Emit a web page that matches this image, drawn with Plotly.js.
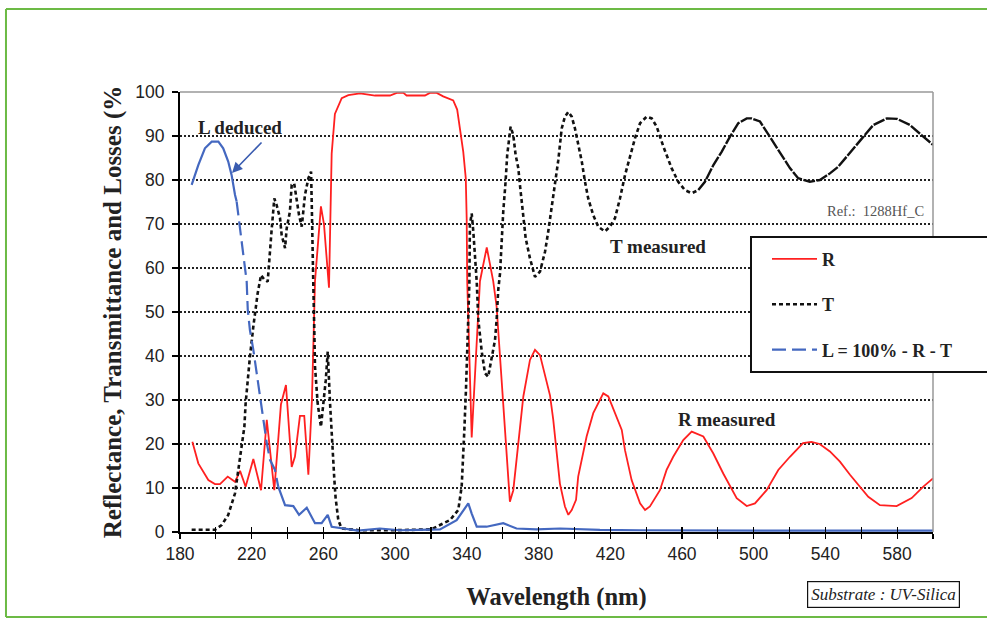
<!DOCTYPE html>
<html>
<head>
<meta charset="utf-8">
<script src="https://cdn.plot.ly/plotly-3.0.1.min.js"></script>
<style>
  html, body { margin: 0; padding: 0; background: #fff; }
  #chart { width: 987px; height: 622px; }
</style>
</head>
<body>
<div id="chart"></div>
<script>
// ---- Data (wavelength nm, value %) ----
const reflectancePoints = [
  [186.9,20.5],[190.2,15.6],[195.8,11.8],[199.5,10.9],[202.3,10.9],[206.6,12.6],[210.7,11.4],[213.5,13.9],
  [216.6,10.3],[220.9,16.6],[225.2,9.5],[228.4,25.5],[232.6,9.5],[236.3,29],[239.1,33.4],[242.3,14.8],
  [244.1,17.1],[246.9,26.4],[249.3,26.4],[251.6,13],[253.6,30],[255.3,57],[258.6,74],[260.3,70],
  [263.1,55.5],[264.6,86],[266.4,95],[270.2,98.6],[273.9,99.3],[280.4,99.7],[288.8,99.2],[297.1,99.2],
  [300.9,99.8],[304.6,99.8],[306.4,99.2],[316.6,99.2],[319.4,99.8],[323.2,99.8],[326.8,99],[332.4,98.1],
  [334.6,96],[336.2,91.7],[338.0,86.4],[339.4,80.4],[339.9,71.3],[340.2,57],[341.2,40],[342.7,21.5],
  [345.1,40],[347.3,57],[351.1,64.7],[354.7,57],[356.6,51.2],[360.3,30],[364.0,6.9],[365.9,9.5],
  [371.5,30.8],[375.2,39.1],[378.0,41.4],[380.8,40.2],[386.4,31],[388.2,25.5],[391.9,11],[394.7,5.8],
  [396.6,3.9],[398.5,5],[400.9,7.3],[402.1,12.6],[406.8,21.7],[410.5,27],[416.1,31.5],[418.9,30.8],
  [422.6,27],[426.4,23.2],[428.2,18.6],[431.9,11.8],[436.6,6.5],[439.4,5],[442.1,5.8],[447.7,9.5],
  [451.4,14.1],[455.1,17.1],[460.7,20.9],[465.4,22.8],[471.9,21.7],[477.4,17.9],[483.0,13.3],[487.7,9.9],
  [490.5,7.7],[496.1,5.9],[500.7,6.5],[507.2,9.5],[513.7,14.1],[520.2,17.1],[527.5,20.2],[532.2,20.5],
  [536.8,20],[542.5,18.3],[548.1,16],[553.7,13],[560.2,9.9],[563.9,8],[570.4,6.1],[579.7,5.9],
  [588.1,7.7],[594.6,10.3],[600,12.2]
];

const transmittancePoints = [
  [186.5,0.5],[199.5,0.5],[203.3,1.6],[206.9,3.9],[210.7,8.8],[212.5,14.1],[214.4,18.6],[215.9,23.9],
  [216.6,29.2],[217.8,35.3],[219.0,39.8],[220.9,46.7],[223.3,54.2],[225.2,58.4],[226.8,57.5],[228.9,56.9],
  [230.2,65.2],[231.1,68.6],[232.6,75.8],[233.9,74.3],[235.8,71.3],[236.7,67.5],[238.6,64.5],[239.5,69],
  [241.3,72.8],[242.3,78.9],[243.7,79.2],[245.1,75.8],[246.4,72],[247.9,69.4],[249.7,76.6],[251.6,80.4],
  [253.1,81.9],[253.5,74.3],[253.8,65.2],[254.3,57.3],[254.9,45.9],[255.3,37.6],[256.8,29.2],[258.6,23.9],
  [261.3,34.5],[262.4,41],[263.7,29.2],[264.6,21.7],[266.1,11.8],[266.8,7.7],[268.3,2.7],[270.1,0.8],
  [280,0.4],[300,0.4],[320,0.6],[330.6,2.7],[335.2,5],[337.1,10.3],[338.0,16.4],[338.6,23.2],
  [339.5,32.3],[339.9,37.6],[340.5,45.9],[340.8,52],[341.4,56.5],[341.7,69.8],[342.7,72.4],[343.6,68.3],
  [344.5,63.7],[345.5,56.9],[346.4,48.2],[348.3,41],[350.1,36.1],[351.9,35.3],[353.8,39.5],[355.7,43.6],
  [356.6,48.2],[357.5,55],[358.5,58.8],[359.4,66],[360.3,72.8],[361.6,79.6],[362.5,85.7],[364.4,92.1],
  [365.9,90.2],[367.2,85.7],[368.7,82.7],[369.6,78.9],[370.6,75.1],[371.5,70.5],[372.8,66.8],[375.2,62.2],
  [378.0,58],[380.8,59.2],[383.6,63.7],[385.4,68.3],[387.3,73.6],[389.1,78.9],[391.0,84.5],[392.9,91.7],
  [394.7,94.4],[396.6,95.5],[398.5,94.4],[400.3,91.7],[402.2,88.3],[404.1,84.2],[405.9,79.6],[407.7,75.8],
  [410.5,72],[413.3,69.4],[417.0,68.3],[419.8,69.4],[422.6,71.3],[425.4,75.8],[428.2,81.1],[431.0,85.3],
  [433.8,89.5],[436.6,92.9],[440.3,94.4],[443.1,94],[445.9,92.1],[449.6,87.6],[454.2,82.7],[457.9,79.6],
  [461.6,77.7],[465.4,77],[469.1,77.7],[472.8,79.6],[477.5,83.4],[482.1,86.4],[486.7,89.8],[491.4,92.9],
  [496.1,94],[498.8,94],[503.5,93.3],[509.1,89.8],[514.6,86.4],[520.2,82.7],[524.8,80.4],[531.3,79.6],
  [536.9,80],[542.5,81.5],[547.1,83],[553.7,86.1],[561.1,89.8],[566.7,92.5],[574.3,94],[579.9,93.9],
  [587.1,92.5],[593.6,90.2],[600,88]
];

const lossesPoints = [
  [186.5,78.9],[190.2,83.4],[193.9,87.2],[197.7,88.7],[201.4,88.7],[204.1,87.2],[206.9,84.2],[208.8,81.1],
  [210.7,76.6],[211.6,75.1],[214.6,65],[217.2,56.9],[217.8,50.5],[219.0,45.9],[220.9,41.4],[222.8,36.1],
  [224.6,30.8],[226.5,24.7],[228.4,20.2],[230.2,16.4],[233.0,14.1],[234.8,10.3],[238.6,6.1],[243.2,5.9],
  [246.4,3.9],[250.7,5.5],[255.3,2],[259.0,2],[262.4,3.9],[264.6,1.2],[270.2,0.8],[279.4,0.3],
  [291.5,0.8],[302.7,0.4],[313.8,0.5],[325.0,0.6],[334.3,2.7],[338.0,5],[340.8,6.5],[342.7,4.2],
  [345.5,1.2],[351.0,1.2],[360.3,2],[367.7,0.8],[378.8,0.6],[392.0,0.8],[403.1,0.6],[414.2,0.5],
  [436.6,0.4],[470,0.3],[525.8,0.3],[600,0.3]
];

const seriesNames = ['R', 'T', 'L = 100% - R - T'];
const xTickValues = [180, 220, 260, 300, 340, 380, 420, 460, 500, 540, 580];
const yTickValues = [0, 10, 20, 30, 40, 50, 60, 70, 80, 90, 100];

const xs = p => p.map(d => d[0]);
const ys = p => p.map(d => d[1]);
// pieces of a series between two wavelengths (inclusive), used to vary the dash look like the original
const part = (p, a, b) => p.filter(d => d[0] >= a && d[0] <= b);

const serif = 'Liberation Serif, Times New Roman, serif';
const sans = 'Liberation Sans, Arial, sans-serif';
const blue = '#4468c0';
const black = '#111111';

const tA = part(transmittancePoints, 0, 470), tB = part(transmittancePoints, 469, 700);
const lA = part(lossesPoints, 0, 211.6), lB = part(lossesPoints, 211.6, 234.8), lC = part(lossesPoints, 234.8, 700);

const traces = [
  { x: xs(reflectancePoints), y: ys(reflectancePoints), name: seriesNames[0], legendgroup: 'r',
    mode: 'lines', line: { color: '#ff2020', width: 1.8 } },
  { x: xs(tA), y: ys(tA), name: seriesNames[1], legendgroup: 't',
    mode: 'lines', line: { color: black, width: 2.6, dash: '4px,3px' } },
  { x: xs(tB), y: ys(tB), name: seriesNames[1], legendgroup: 't', showlegend: false,
    mode: 'lines', line: { color: black, width: 2.4, dash: '12px,1.5px' } },
  { x: xs(lA), y: ys(lA), name: seriesNames[2], legendgroup: 'l', showlegend: false,
    mode: 'lines', line: { color: blue, width: 2.2 } },
  { x: xs(lB), y: ys(lB), name: seriesNames[2], legendgroup: 'l',
    mode: 'lines', line: { color: blue, width: 2.2, dash: '14px,6px' } },
  { x: xs(lC), y: ys(lC), name: seriesNames[2], legendgroup: 'l', showlegend: false,
    mode: 'lines', line: { color: blue, width: 2.2 } },
  { x: [180, 600], y: [null, null], xaxis: 'x2', yaxis: 'y', showlegend: false, hoverinfo: 'skip',
    mode: 'lines' }
];

const green = '#6cba45';
const layout = {
  width: 987, height: 622,
  margin: { l: 180, r: 54, t: 92, b: 90 },
  paper_bgcolor: '#ffffff', plot_bgcolor: '#ffffff',
  showlegend: true,
  xaxis: {
    range: [180, 600], tickvals: xTickValues, ticks: 'outside', ticklen: 5, tickwidth: 1.2, tickcolor: '#000',
    minor: { dtick: 20, tick0: 180, ticks: 'outside', ticklen: 5, tickwidth: 1.2, tickcolor: '#000', showgrid: false },
    showline: true, linecolor: '#000', linewidth: 1.5, showgrid: false, zeroline: false,
    tickfont: { family: sans, size: 17.5, color: '#222' },
    title: { text: 'Wavelength (nm)', standoff: 25, font: { family: serif, size: 24.5, color: '#222', weight: 'bold' } }
  },
  xaxis2: {
    overlaying: 'x', matches: 'x', range: [180, 600], dtick: 20, tick0: 180, ticks: 'inside', ticklen: 5,
    tickwidth: 1.2, tickcolor: '#000', showticklabels: false, showgrid: false, zeroline: false, showline: false,
    side: 'bottom'
  },
  yaxis: {
    range: [0, 100], tickvals: yTickValues, ticks: 'outside', ticklen: 6, tickwidth: 1.2, tickcolor: '#000',
    showline: true, linecolor: '#000', linewidth: 2, zeroline: false,
    showgrid: true, gridcolor: '#222', gridwidth: 1.4, griddash: '2px,2px',
    tickfont: { family: sans, size: 17.5, color: '#222' }, ticklabelstandoff: 4,
    title: { text: 'Reflectance, Transmittance and Losses (%', standoff: 7,
             font: { family: serif, size: 25, color: '#222', weight: 'bold' } }
  },
  legend: {
    x: 0.7583, y: 0.662, xanchor: 'left', yanchor: 'top',
    bgcolor: 'rgba(0,0,0,0)', borderwidth: 0, indentation: 16, itemwidth: 45,
    font: { family: serif, size: 18, color: '#222', weight: 'bold' },
    tracegroupgap: 19
  },
  shapes: [
    // gray top & right plot border
    { type: 'line', xref: 'paper', yref: 'paper', x0: 0, x1: 1, y0: 1, y1: 1, line: { color: '#999', width: 1.5 } },
    { type: 'line', xref: 'paper', yref: 'paper', x0: 1, x1: 1, y0: 0, y1: 1, line: { color: '#999', width: 1.5 } },
    // legend box
    { type: 'rect', xref: 'paper', yref: 'paper', x0: 0.7583, x1: 1.08, y0: 0.3636, y1: 0.6705,
      fillcolor: '#ffffff', line: { color: '#111', width: 2 }, layer: 'above' },
    // green frame
    { type: 'line', xref: 'paper', yref: 'paper', x0: -0.2311, x1: 1.08, y0: 1.1886, y1: 1.1886, line: { color: green, width: 2 } },
    { type: 'line', xref: 'paper', yref: 'paper', x0: -0.2311, x1: -0.2311, y0: -0.193, y1: 1.1886, line: { color: green, width: 2 } },
    { type: 'line', xref: 'paper', yref: 'paper', x0: -0.2311, x1: 1.08, y0: -0.193, y1: -0.193, line: { color: green, width: 2 } }
  ],
  annotations: [
    { text: '<b>L deduced</b>', x: 213.5, y: 92, xref: 'x', yref: 'y', showarrow: false,
      font: { family: serif, size: 19, color: '#222' } },
    { text: '', x: 209, y: 81.6, xref: 'x', yref: 'y', showarrow: true, ax: 31, ay: -32,
      arrowcolor: '#3a5cb0', arrowwidth: 1.6, arrowhead: 2, arrowsize: 1.3 },
    { text: '<b>T measured</b>', x: 446.6, y: 65, xref: 'x', yref: 'y', showarrow: false,
      font: { family: serif, size: 19, color: '#222' } },
    { text: '<b>R measured</b>', x: 485.1, y: 25.5, xref: 'x', yref: 'y', showarrow: false,
      font: { family: serif, size: 19, color: '#222' } },
    { text: 'Ref.:  1288Hf_C', x: 596, y: 73, xref: 'x', yref: 'y', xanchor: 'right', showarrow: false,
      font: { family: serif, size: 14.5, color: '#555' } },
    { text: '<i>Substrate : UV-Silica</i>', x: 0.9336, y: -0.143, xref: 'paper', yref: 'paper',
      xanchor: 'center', yanchor: 'middle', showarrow: false,
      font: { family: serif, size: 17, color: '#222' }, bordercolor: '#111', borderwidth: 1.2, borderpad: 3,
      bgcolor: '#fff' }
  ]
};

Plotly.newPlot('chart', traces, layout, { displayModeBar: false, staticPlot: true });
</script>
</body>
</html>
